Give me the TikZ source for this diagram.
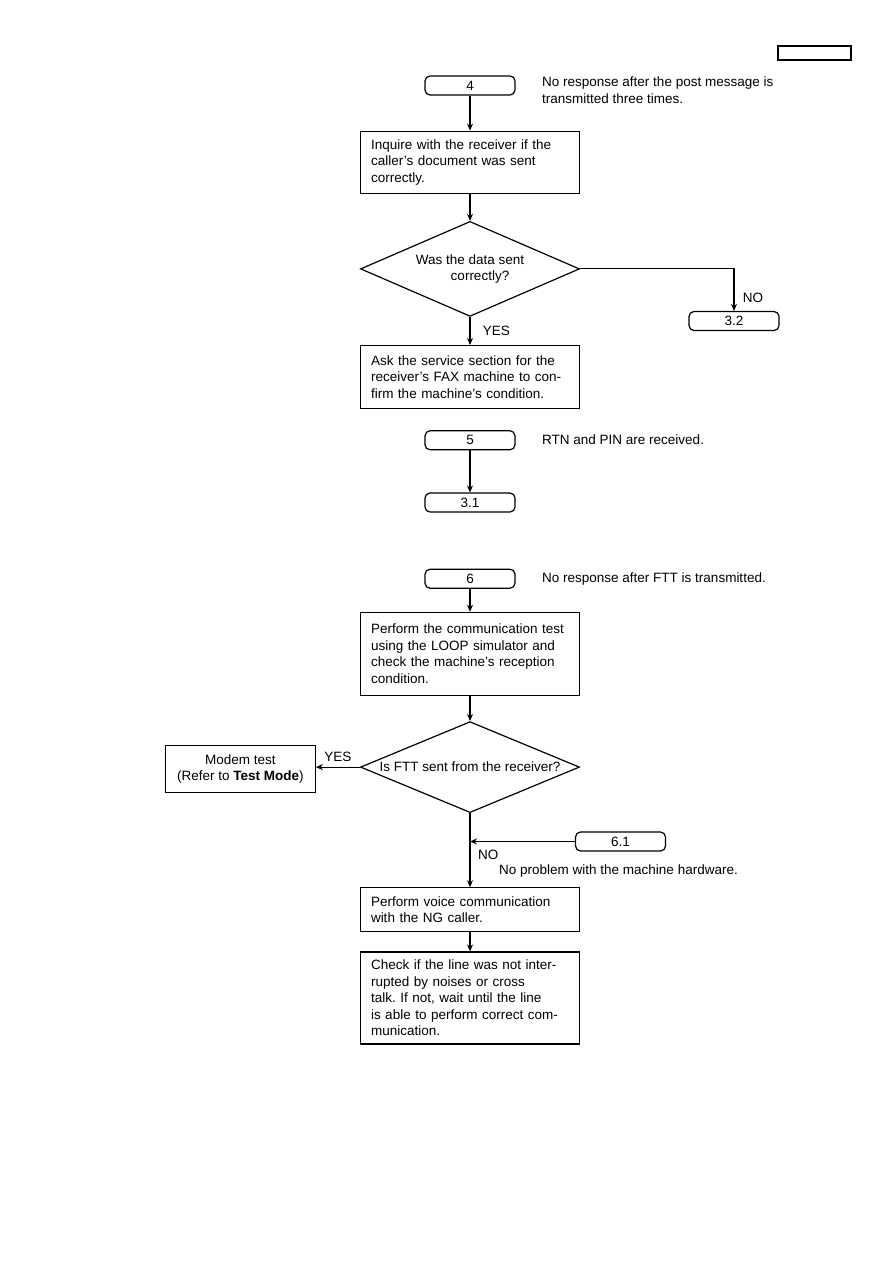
\documentclass[tikz,border=0pt]{standalone}
\usepackage{fontspec}
\setmainfont{Liberation Sans}
\usetikzlibrary{shapes.geometric, arrows.meta, positioning}
\frenchspacing
\newcommand{\flowfont}{\fontsize{13.5}{16.5}\selectfont}
\tikzset{
    box/.style={rectangle, draw, line width=1.2pt, text width=198pt, inner xsep=10.5pt, inner ysep=0pt, align=left, font=\flowfont},
    arrow/.style={line width=1.1pt, -{Stealth[length=7pt,width=6pt]}}
}

\begin{document}
\begin{tikzpicture}[
    x=1pt, y=-1pt,
    node distance=30pt,
    termbox/.style={rectangle, draw, line width=1.2pt, rounded corners=5pt, minimum width=90pt, minimum height=19pt, inner sep=0pt, font=\flowfont},
    decbox/.style={diamond, draw, line width=1.2pt, aspect=2.3, inner sep=0pt, minimum width=219pt, align=center, font=\flowfont},
    modembox/.style={rectangle, draw, line width=1.2pt, minimum width=150pt, minimum height=47pt, inner sep=0pt, align=center, font=\flowfont},
    note/.style={anchor=west, inner sep=0pt, align=left, font=\flowfont}
]
    \useasboundingbox (0,0) rectangle (893,1263);

    % Page number frame
    \node (pagebox) [draw, line width=1.2pt, minimum width=73pt, minimum height=14pt, inner sep=0pt] at (814.5,53) {};

    % Case 4
    \node (t4) [termbox] at (470,85.5) {4};
    \node (b1) [box, minimum height=62pt, below=35pt of t4] {Inquire with the receiver if the\\caller's document was sent\\correctly.};
    \node (d1) [decbox, minimum height=95pt, below=27pt of b1] {Was the data sent\\\hspace*{20pt}correctly?};
    \node (b2) [box, minimum height=63pt, below=28pt of d1] {Ask the service section for the\\receiver's FAX machine to con-\\firm the machine's condition.};
    \node (t32) [termbox] at (734,321) {3.2};

    % Case 5
    \node (t5) [termbox, below=21pt of b2] {5};
    \node (t31) [termbox, below=42pt of t5] {3.1};

    % Case 6
    \node (t6) [termbox, below=56pt of t31] {6};
    \node (b3) [box, minimum height=83pt, below=23pt of t6] {Perform the communication test\\using the LOOP simulator and\\check the machine's reception\\condition.};
    \node (d2) [decbox, minimum height=91pt, below=25pt of b3] {Is FTT sent from the receiver?};
    \node (modem) [modembox, left=44pt of d2, yshift=-2pt] {Modem test\\(Refer to \textbf{Test Mode})};
    \node (b4) [box, minimum height=44pt, below=74pt of d2] {Perform voice communication\\with the NG caller.};
    \node (b5) [box, minimum height=92pt, below=19pt of b4] {Check if the line was not inter-\\rupted by noises or cross\\talk. If not, wait until the line\\is able to perform correct com-\\munication.};
    \node (t61) [termbox] at (620.5,841.5) {6.1};

    % Notes
    \node (n4) [note] at (542,90) {No response after the post message is\\transmitted three times.};
    \node (n5) [note] at (542,440) {RTN and PIN are received.};
    \node (n6) [note] at (542,579) {No response after FTT is transmitted.};
    \node (n61) [note] at (499,871) {No problem with the machine hardware.};

    % Connectors
    \draw [arrow] (t4) -- (b1);
    \draw [arrow] (b1) -- (d1);
    \draw [arrow] (d1.east) -| (t32.north) node[pos=0.85, right=5pt, font=\flowfont] {NO};
    \draw [arrow] (d1) -- (b2) node[midway, right=9pt, font=\flowfont] {YES};
    \draw [arrow] (t5) -- (t31);
    \draw [arrow] (t6) -- (b3);
    \draw [arrow] (b3) -- (d2);
    \draw [arrow] (d2.west) -- (d2.west -| modem.east) node[midway, above=2pt, font=\flowfont] {YES};
    \draw [arrow] (d2) -- (b4);
    \draw [arrow] (t61) -- (t61 -| d2.south);
    \node (no2) [note] at (478,855) {NO};
    \draw [arrow] (b4) -- (b5);

\end{tikzpicture}
\end{document}
